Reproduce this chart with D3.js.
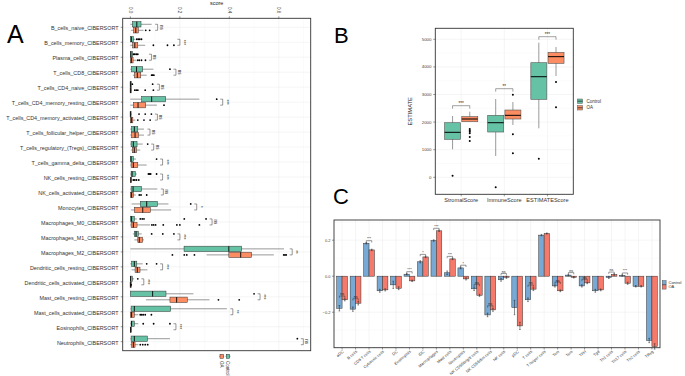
<!DOCTYPE html>
<html>
<head>
<meta charset="UTF-8">
<title></title>
<script src="https://cdn.jsdelivr.net/npm/d3@7/dist/d3.min.js"></script>
<style>
body{margin:0;background:#fff}
text{font-family:"Liberation Sans",Arial,sans-serif}
</style>
</head>
<body>
<script>
// ---------- panel A data (CIBERSORT) ----------
var cellsA=["B_cells_naive_CIBERSORT","B_cells_memory_CIBERSORT","Plasma_cells_CIBERSORT","T_cells_CD8_CIBERSORT",
 "T_cells_CD4_naive_CIBERSORT","T_cells_CD4_memory_resting_CIBERSORT","T_cells_CD4_memory_activated_CIBERSORT",
 "T_cells_follicular_helper_CIBERSORT","T_cells_regulatory_(Tregs)_CIBERSORT","T_cells_gamma_delta_CIBERSORT",
 "NK_cells_resting_CIBERSORT","NK_cells_activated_CIBERSORT","Monocytes_CIBERSORT","Macrophages_M0_CIBERSORT",
 "Macrophages_M1_CIBERSORT","Macrophages_M2_CIBERSORT","Dendritic_cells_resting_CIBERSORT","Dendritic_cells_activated_CIBERSORT",
 "Mast_cells_resting_CIBERSORT","Mast_cells_activated_CIBERSORT","Eosinophils_CIBERSORT","Neutrophils_CIBERSORT"];
// [lower whisker, q1, median, q3, upper whisker]
var ctrlA=[[0,0.008,0.026,0.043,0.086],[0,0,0.004,0.012,0.02],[0,0,0.002,0.009,0.01],[0,0.005,0.025,0.05,0.093],
 [0,0,0,0.004,0.004],[0,0.046,0.086,0.143,0.279],[0,0,0,0.003,0.006],[0,0.005,0.016,0.03,0.055],
 [0,0.003,0.012,0.027,0.05],[0,0,0.003,0.012,0.023],[0,0.003,0.007,0.02,0.026],[0,0.003,0.011,0.045,0.109],
 [0.005,0.04,0.066,0.109,0.154],[0,0,0.005,0.016,0.026],[0.01,0.016,0.023,0.032,0.046],[0,0.217,0.398,0.45,0.621],
 [0,0.005,0.016,0.026,0.05],[0,0,0.001,0.008,0.015],[0,0,0.09,0.144,0.255],[0,0.003,0.016,0.163,0.39],
 [0,0.003,0.005,0.016,0.032],[0,0.003,0.016,0.069,0.16]];
var oaA=[[0.003,0.013,0.022,0.032,0.053],[0,0.009,0.018,0.03,0.06],[0,0,0.004,0.011,0.025],[0.01,0.016,0.028,0.042,0.066],
 [0,0,0,0.004,0.006],[0,0.012,0.031,0.062,0.107],[0,0,0.004,0.01,0.02],[0,0.005,0.019,0.033,0.055],
 [0.003,0.008,0.016,0.025,0.04],[0,0.003,0.012,0.03,0.066],[0,0,0.002,0.005,0.008],[0,0,0.005,0.012,0.022],
 [0.003,0.016,0.05,0.081,0.165],[0,0.003,0.012,0.027,0.08],[0.016,0.03,0.036,0.05,0.055],[0.308,0.398,0.446,0.49,0.58],
 [0.005,0.019,0.028,0.039,0.069],[0,0,0,0.005,0.005],[0.063,0.16,0.187,0.23,0.32],[0,0,0.005,0.016,0.032],
 [0,0,0.001,0.005,0.005],[0,0.005,0.012,0.019,0.032]];
var ctrlOutA=[[],[0.026,0.032,0.038,0.045],[0.013,0.018,0.024,0.03],[0.16],[0.008,0.09],[0.349],[0.035,0.06,0.085],[],
 [0.07],[0.106],[0.073,0.078,0.082,0.106],[],[0.244],[0.04,0.048,0.055,0.218,0.306],[0.086,0.131,0.176],[],
 [0.066,0.106],[0.03],[0.5],[],[0.052,0.094,0.16],[0.675]];
var oaOutA=[[0.062,0.078],[0.093,0.15,0.176],[0.03,0.036,0.045,0.061],[0.086,0.09,0.095],[0.018,0.024,0.03,0.06,0.093],[0.136],
 [0.03,0.055,0.08],[],[],[],[0.012,0.018,0.025,0.034],[0.036,0.043,0.066],[],[0.087,0.094,0.102,0.133,0.188,0.2,0.279],
 [],[0.17,0.218,0.228,0.259,0.62,0.625,0.63],[],[0.003],[0.356,0.44],[0.04,0.046,0.052,0.06,0.085],[],[0.04,0.05,0.06,0.07]];
var sigA=["ns","***","ns","ns","ns","***","ns","ns","ns","***","***","ns","*","ns","***","**","***","***","***","**","***","ns"];
var ticksA=[0,0.2,0.4,0.6];

// ---------- panel B data (ESTIMATE) ----------
var scoresB=["StromalScore","ImmuneScore","ESTIMATEScore"];
var ctrlB=[[1014,1377,1630,1978,2221],[772,1641,1978,2246,2837],[1775,2826,3645,4152,4877]];
var oaB=[[2014,2014,2112,2196,2377],[1895,2112,2246,2438,2728],[3670,4130,4371,4529,4720]];
var ctrlOutB=[[58],[-362],[674]];
var oaOutB=[[1315,1460,1594,1650,1700,1750],[870,1558,2993],[2536,3453]];
var sigB=["***","**","***"];
var ticksB=[0,1000,2000,3000,4000,5000];

// ---------- panel C data (ssGSEA) ----------
var cellsC=["aDC","B cells","CD8 T cells","Cytotoxic cells","DC","Eosinophils","iDC","Macrophages","Mast cells","Neutrophils",
 "NK CD56bright cells","NK CD56dim cells","NK cells","pDC","T cells","T helper cells","Tcm","Tem","TFH","Tgd",
 "Th1 cells","Th17 cells","Th2 cells","TReg"];
var ctrlC=[-0.178,-0.183,0.183,-0.081,-0.048,0.011,0.08,0.198,0.019,0.046,-0.07,-0.215,-0.02,-0.174,-0.131,0.228,-0.054,0.006,-0.054,-0.081,-0.007,0.004,-0.056,-0.357];
var oaC=[-0.131,-0.15,0.146,-0.076,-0.067,-0.026,0.107,0.252,0.096,-0.015,-0.106,-0.187,-0.006,-0.276,-0.072,0.237,-0.081,-0.006,-0.037,-0.076,0.009,-0.039,-0.056,-0.39];
var ctrlErrC=[0.015,0.012,0.004,0.008,0.02,0.004,0.006,0.004,0.01,0.005,0.01,0.01,0.008,0.04,0.01,0.004,0.006,0.004,0.006,0.008,0.006,0.004,0.004,0.012];
var oaErrC=[0.006,0.01,0.004,0.006,0.008,0.004,0.004,0.004,0.004,0.006,0.006,0.008,0.006,0.02,0.008,0.003,0.005,0.004,0.005,0.005,0.004,0.006,0.004,0.015];
var sigC=["ns","ns","***","","","***","*","***","***","*","ns","ns","ns","","ns","","ns","ns","ns","","ns","***","",""];
var ticksC=[-0.2,0,0.2];

var green="#66c2a5", orange="#fc8d62", blue="#78a9d4", red="#f67a6b";

var svg=d3.select('body').append('svg').attr('width',685).attr('height',376);

function grid(g,x1,x2,y1,y2,w,c){
    g.append('line').attr('x1',x1).attr('x2',x2).attr('y1',y1).attr('y2',y2)
        .attr('stroke',c||'#ebebeb').attr('stroke-width',w||0.5);
}

// =============== PANEL A ===============
var xA=d3.scaleLinear().domain([-0.031,0.729]).range([122.7,310.7]);
var yA=d3.scalePoint().domain(cellsA).range([18.3,350.7]).padding(0.6);
var gA=svg.append('g');
[0.1,0.3,0.5,0.7].forEach(function(t){grid(gA,xA(t),xA(t),18.3,350.7,0.3,'#f2f2f2');});
ticksA.forEach(function(t){grid(gA,xA(t),xA(t),18.3,350.7,0.5);});
cellsA.forEach(function(c){grid(gA,122.7,310.7,yA(c),yA(c),0.5);});

function hbox(g,st,outs,yc,fill){
    var h=5.4;
    g.append('line').attr('x1',xA(st[0])).attr('x2',xA(st[4])).attr('y1',yc).attr('y2',yc)
        .attr('stroke','#333').attr('stroke-width',0.5);
    g.append('rect').attr('x',xA(st[1])).attr('y',yc-h/2)
        .attr('width',Math.max(xA(st[3])-xA(st[1]),0.6)).attr('height',h)
        .attr('fill',fill).attr('stroke','#333').attr('stroke-width',0.5);
    g.append('line').attr('x1',xA(st[2])).attr('x2',xA(st[2])).attr('y1',yc-h/2).attr('y2',yc+h/2)
        .attr('stroke','#000').attr('stroke-width',0.9);
    g.selectAll(null).data(outs).enter().append('circle')
        .attr('cx',function(d){return xA(d);}).attr('cy',yc).attr('r',0.9).attr('fill','#000');
}
cellsA.forEach(function(c,i){
    var yc=yA(c);
    hbox(gA,ctrlA[i],ctrlOutA[i],yc-3,green);
    hbox(gA,oaA[i],oaOutA[i],yc+3,orange);
    var mx=d3.max(ctrlA[i].concat(oaA[i],ctrlOutA[i],oaOutA[i]));
    var bx=xA(mx)+6;
    gA.append('path').attr('d','M'+(bx-2.5)+','+(yc-3)+'H'+bx+'V'+(yc+3)+'H'+(bx-2.5))
        .attr('fill','none').attr('stroke','#333').attr('stroke-width',0.5);
    gA.append('text').attr('transform','translate('+(bx+1.5)+','+yc+') rotate(90)')
        .attr('text-anchor','middle').attr('dy','-0.1em').attr('font-size',4.5).attr('fill','#222').text(sigA[i]);
    gA.append('text').attr('x',118.5).attr('y',yc+1).attr('dy','0.35em')
        .attr('text-anchor','end').attr('font-size',5.4).attr('fill','#333').text(c);
    grid(gA,120.7,122.7,yc,yc,0.5,'#333');
});
gA.append('rect').attr('x',122.7).attr('y',18.3).attr('width',188).attr('height',332.4)
    .attr('fill','none').attr('stroke','#333').attr('stroke-width',0.9);
ticksA.forEach(function(t){
    grid(gA,xA(t),xA(t),16.3,18.3,0.5,'#333');
    gA.append('text').attr('transform','translate('+xA(t)+',7) rotate(90)')
        .attr('dy','0.35em').attr('font-size',4.6).attr('fill','#444').text(d3.format('.1f')(t));
});
gA.append('text').attr('x',216.7).attr('y',5).attr('text-anchor','middle').attr('font-size',5.5).attr('fill','#222').text('score');
// legend A
[[orange,'OA',221.7],[green,'Control',228]].forEach(function(k){
    gA.append('line').attr('x1',k[2]-2.5).attr('x2',k[2]+2.5).attr('y1',356.3).attr('y2',356.3).attr('stroke','#333').attr('stroke-width',0.5);
    gA.append('rect').attr('x',k[2]-1.7).attr('y',354.3).attr('width',3.4).attr('height',4).attr('fill',k[0]).attr('stroke','#333').attr('stroke-width',0.5);
    gA.append('text').attr('transform','translate('+k[2]+',361) rotate(90)').attr('dy','0.35em')
        .attr('font-size',4.5).attr('fill','#333').text(k[1]);
});
svg.append('text').attr('x',7).attr('y',43).attr('font-size',25).attr('fill','#000').text('A');

// =============== PANEL B ===============
var xB=d3.scalePoint().domain(scoresB).range([435.3,573.3]).padding(0.6);
var yB=d3.scaleLinear().domain([-616,5399]).range([194.3,28.3]);
var gB=svg.append('g');
d3.range(-500,5400,1000).forEach(function(t){grid(gB,435.3,573.3,yB(t),yB(t),0.3,'#f2f2f2');});
ticksB.forEach(function(t){grid(gB,435.3,573.3,yB(t),yB(t),0.5);});
scoresB.forEach(function(s){grid(gB,xB(s),xB(s),28.3,194.3,0.5);});
function vbox(g,st,outs,xc,fill){
    var w=16;
    g.append('line').attr('x1',xc).attr('x2',xc).attr('y1',yB(st[0])).attr('y2',yB(st[4]))
        .attr('stroke','#555').attr('stroke-width',0.6);
    g.append('rect').attr('x',xc-w/2).attr('y',yB(st[3])).attr('width',w)
        .attr('height',Math.max(yB(st[1])-yB(st[3]),0.6))
        .attr('fill',fill).attr('stroke','#555').attr('stroke-width',0.6);
    g.append('line').attr('x1',xc-w/2).attr('x2',xc+w/2).attr('y1',yB(st[2])).attr('y2',yB(st[2]))
        .attr('stroke','#000').attr('stroke-width',1);
    g.selectAll(null).data(outs).enter().append('circle')
        .attr('cx',xc).attr('cy',function(d){return yB(d);}).attr('r',1).attr('fill','#000');
}
scoresB.forEach(function(s,i){
    var xc=xB(s);
    vbox(gB,ctrlB[i],ctrlOutB[i],xc-8.6,green);
    vbox(gB,oaB[i],oaOutB[i],xc+8.6,orange);
    var mx=d3.max(ctrlB[i].concat(oaB[i],ctrlOutB[i],oaOutB[i]));
    var by=yB(mx)-6;
    gB.append('path').attr('d','M'+(xc-8.6)+','+(by+3)+'V'+by+'H'+(xc+8.6)+'V'+(by+3))
        .attr('fill','none').attr('stroke','#444').attr('stroke-width',0.5);
    gB.append('text').attr('x',xc).attr('y',by-0.8).attr('text-anchor','middle').attr('font-size',4.5).attr('fill','#222').text(sigB[i]);
    grid(gB,xc,xc,194.3,196.3,0.5,'#333');
    gB.append('text').attr('x',xc).attr('y',202).attr('text-anchor','middle').attr('font-size',5.6).attr('fill','#333').text(s);
});
gB.append('rect').attr('x',435.3).attr('y',28.3).attr('width',138).attr('height',166)
    .attr('fill','none').attr('stroke','#333').attr('stroke-width',0.9);
ticksB.forEach(function(t){
    grid(gB,433.3,435.3,yB(t),yB(t),0.5,'#333');
    gB.append('text').attr('x',431.5).attr('y',yB(t)).attr('dy','0.35em').attr('text-anchor','end')
        .attr('font-size',4.4).attr('fill','#444').text(t);
});
gB.append('text').attr('transform','translate(412,111.3) rotate(-90)').attr('text-anchor','middle')
    .attr('font-size',5.8).attr('fill','#222').text('ESTIMATE');
[[green,'Control',101.2],[orange,'OA',107.8]].forEach(function(k){
    gB.append('rect').attr('x',577.5).attr('y',k[2]-2.2).attr('width',5).attr('height',4.4)
        .attr('fill',k[0]).attr('stroke','#555').attr('stroke-width',0.5);
    gB.append('line').attr('x1',577.5).attr('x2',582.5).attr('y1',k[2]).attr('y2',k[2]).attr('stroke','#000').attr('stroke-width',0.6);
    gB.append('text').attr('x',586.5).attr('y',k[2]).attr('dy','0.35em').attr('font-size',4.5).attr('fill','#333').text(k[1]);
});
svg.append('text').attr('x',334).attr('y',43).attr('font-size',22).attr('fill','#000').text('B');

// =============== PANEL C ===============
var xC=d3.scalePoint().domain(cellsC).range([334,660]).padding(0.6);
var yC=d3.scaleLinear().domain([-0.397,0.312]).range([347.7,220]);
var gC=svg.append('g');
[-0.3,-0.1,0.1,0.3].forEach(function(t){grid(gC,334,660,yC(t),yC(t),0.3,'#f2f2f2');});
ticksC.forEach(function(t){grid(gC,334,660,yC(t),yC(t),0.5);});
cellsC.forEach(function(c){grid(gC,xC(c),xC(c),220,347.7,0.5);});
var bw=5.4;
cellsC.forEach(function(c,i){
    var xc=xC(c);
    [[ctrlC[i],ctrlErrC[i],blue,xc-bw/2],[oaC[i],oaErrC[i],red,xc+bw/2]].forEach(function(b){
        var y0=yC(0), y1=yC(b[0]);
        gC.append('rect').attr('x',b[3]-bw/2).attr('y',Math.min(y0,y1)).attr('width',bw)
            .attr('height',Math.abs(y1-y0)).attr('fill',b[2]).attr('stroke','#333').attr('stroke-width',0.5);
        gC.append('line').attr('x1',b[3]).attr('x2',b[3]).attr('y1',yC(b[0]-b[1])).attr('y2',yC(b[0]+b[1]))
            .attr('stroke','#222').attr('stroke-width',0.5);
        [b[0]-b[1],b[0]+b[1]].forEach(function(e){
            grid(gC,b[3]-0.8,b[3]+0.8,yC(e),yC(e),0.5,'#222');
        });
    });
    if(sigC[i]){
        var mx=Math.max(ctrlC[i]+ctrlErrC[i],oaC[i]+oaErrC[i],0)+0.01;
        if(Math.max(ctrlC[i],oaC[i])<0) mx=Math.max(ctrlC[i]+ctrlErrC[i],oaC[i]+oaErrC[i])+0.015;
        var by=yC(mx);
        gC.append('path').attr('d','M'+(xc-bw/2)+','+(by+1.8)+'V'+by+'H'+(xc+bw/2)+'V'+(by+1.8))
            .attr('fill','none').attr('stroke','#333').attr('stroke-width',0.5);
        gC.append('text').attr('x',xc).attr('y',by-0.6).attr('text-anchor','middle').attr('font-size',3.6).attr('fill','#222').text(sigC[i]);
    }
    grid(gC,xc,xc,347.7,349.5,0.5,'#333');
    gC.append('text').attr('transform','translate('+(xc+1)+',351) rotate(-40)').attr('text-anchor','end')
        .attr('dy','0.35em').attr('font-size',4).attr('fill','#333').text(c);
});
gC.append('rect').attr('x',334).attr('y',220).attr('width',326).attr('height',127.7)
    .attr('fill','none').attr('stroke','#333').attr('stroke-width',0.9);
ticksC.forEach(function(t){
    grid(gC,332,334,yC(t),yC(t),0.5,'#333');
    gC.append('text').attr('x',330.5).attr('y',yC(t)).attr('dy','0.35em').attr('text-anchor','end')
        .attr('font-size',4).attr('fill','#444').text(d3.format('.1f')(t));
});
[[blue,'Control',282.7],[red,'OA',287]].forEach(function(k){
    gC.append('rect').attr('x',662.3).attr('y',k[2]-2.1).attr('width',3.8).attr('height',4.2)
        .attr('fill',k[0]).attr('stroke','#333').attr('stroke-width',0.4);
    gC.append('text').attr('x',668.5).attr('y',k[2]).attr('dy','0.35em').attr('font-size',4).attr('fill','#333').text(k[1]);
});
svg.append('text').attr('x',333).attr('y',204).attr('font-size',22).attr('fill','#000').text('C');
</script>
</body>
</html>
